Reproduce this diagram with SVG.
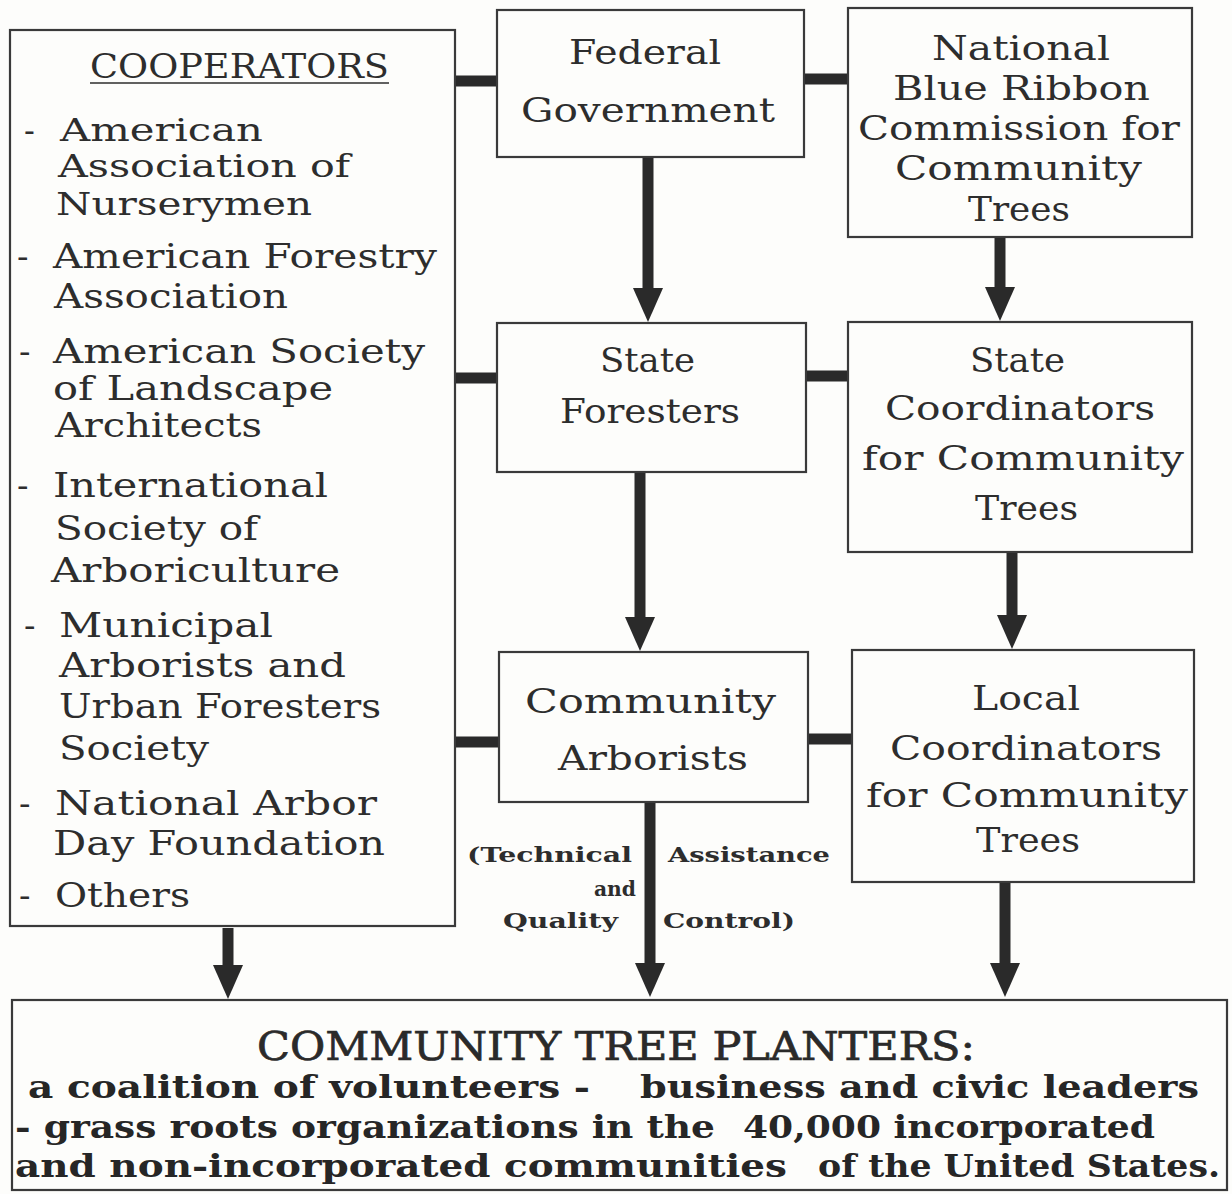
<svg xmlns="http://www.w3.org/2000/svg" width="1232" height="1194" viewBox="0 0 1232 1194">
<defs>
<style>
.bg{fill:#fdfdfb}
.box{fill:none;stroke:#3a3a3a;stroke-width:2.2}
.t{font-family:"DejaVu Serif","Liberation Serif",serif;font-size:34px;fill:#2d2d2d}
.c{font-size:32px}
.lb{font-family:"DejaVu Serif","Liberation Serif",serif;font-size:21px;font-weight:bold;fill:#2d2d2d}
.hd{font-family:"DejaVu Serif","Liberation Serif",serif;font-size:40px;fill:#2a2a2a;stroke:#2a2a2a;stroke-width:0.7}
.bd{font-family:"DejaVu Serif","Liberation Serif",serif;font-size:31px;font-weight:bold;fill:#262626}
.bar{stroke:#2a2a2a;stroke-width:11;fill:none}
.arr{stroke:#2a2a2a;stroke-width:11;fill:none;marker-end:url(#ah)}
</style>
<marker id="ah" markerUnits="userSpaceOnUse" viewBox="0 0 34 30" markerWidth="34" markerHeight="30" refX="1" refY="15" orient="auto">
<path d="M0,0 L34,15 L0,30 Z" fill="#2a2a2a"/>
</marker>
</defs>
<rect class="bg" x="0" y="0" width="1232" height="1194"/>

<g id="connectors">
<line class="bar" x1="455" y1="81" x2="498" y2="81"/>
<line class="bar" x1="804" y1="79" x2="849" y2="79"/>
<line class="bar" x1="455" y1="378" x2="498" y2="378"/>
<line class="bar" x1="806" y1="376" x2="849" y2="376"/>
<line class="bar" x1="455" y1="742" x2="500" y2="742"/>
<line class="bar" x1="808" y1="739" x2="852" y2="739"/>
<line class="arr" x1="648" y1="157" x2="648" y2="289"/>
<line class="arr" x1="1000" y1="237" x2="1000" y2="288"/>
<line class="arr" x1="640" y1="472" x2="640" y2="618"/>
<line class="arr" x1="1012" y1="552" x2="1012" y2="616"/>
<line class="arr" x1="228" y1="928" x2="228" y2="966"/>
<line class="arr" x1="650" y1="802" x2="650" y2="964"/>
<line class="arr" x1="1005" y1="882" x2="1005" y2="964"/>
</g>

<g id="cooperators">
<rect class="box" x="10" y="30" width="445" height="896"/>
<text class="t" x="90" y="78" textLength="299" lengthAdjust="spacingAndGlyphs">COOPERATORS</text>
<line x1="90" y1="83" x2="389" y2="83" stroke="#2d2d2d" stroke-width="1.6"/>
<text class="t c" y="141"><tspan x="24">-</tspan><tspan x="60" textLength="203" lengthAdjust="spacingAndGlyphs">American</tspan></text>
<text class="t c" x="58" y="177" textLength="292" lengthAdjust="spacingAndGlyphs">Association of</text>
<text class="t c" x="56" y="215" textLength="256" lengthAdjust="spacingAndGlyphs">Nurserymen</text>
<text class="t" y="268"><tspan x="17">-</tspan><tspan x="53" textLength="384" lengthAdjust="spacingAndGlyphs">American Forestry</tspan></text>
<text class="t" x="54" y="308" textLength="234" lengthAdjust="spacingAndGlyphs">Association</text>
<text class="t" y="363"><tspan x="19">-</tspan><tspan x="53" textLength="372" lengthAdjust="spacingAndGlyphs">American Society</tspan></text>
<text class="t" x="53" y="400" textLength="280" lengthAdjust="spacingAndGlyphs">of Landscape</text>
<text class="t" x="55" y="437" textLength="207" lengthAdjust="spacingAndGlyphs">Architects</text>
<text class="t" y="497"><tspan x="17">-</tspan><tspan x="53" textLength="275" lengthAdjust="spacingAndGlyphs">International</tspan></text>
<text class="t" x="55" y="540" textLength="203" lengthAdjust="spacingAndGlyphs">Society of</text>
<text class="t" x="51" y="582" textLength="289" lengthAdjust="spacingAndGlyphs">Arboriculture</text>
<text class="t" y="637"><tspan x="24">-</tspan><tspan x="59" textLength="214" lengthAdjust="spacingAndGlyphs">Municipal</tspan></text>
<text class="t" x="59" y="677" textLength="287" lengthAdjust="spacingAndGlyphs">Arborists and</text>
<text class="t" x="59" y="718" textLength="322" lengthAdjust="spacingAndGlyphs">Urban Foresters</text>
<text class="t" x="59" y="760" textLength="150" lengthAdjust="spacingAndGlyphs">Society</text>
<text class="t" y="815"><tspan x="19">-</tspan><tspan x="55" textLength="322" lengthAdjust="spacingAndGlyphs">National Arbor</tspan></text>
<text class="t" x="53" y="855" textLength="332" lengthAdjust="spacingAndGlyphs">Day Foundation</text>
<text class="t" y="907"><tspan x="19">-</tspan><tspan x="55" textLength="135" lengthAdjust="spacingAndGlyphs">Others</tspan></text>
</g>

<g id="federal">
<rect class="box" x="497" y="10" width="307" height="147"/>
<text class="t" x="569" y="64" textLength="152" lengthAdjust="spacingAndGlyphs">Federal</text>
<text class="t" x="521" y="122" textLength="254" lengthAdjust="spacingAndGlyphs">Government</text>
</g>

<g id="blue-ribbon">
<rect class="box" x="848" y="8" width="344" height="229"/>
<text class="t" x="932" y="60" textLength="178" lengthAdjust="spacingAndGlyphs">National</text>
<text class="t" x="893" y="100" textLength="257" lengthAdjust="spacingAndGlyphs">Blue Ribbon</text>
<text class="t" x="858" y="140" textLength="322" lengthAdjust="spacingAndGlyphs">Commission for</text>
<text class="t" x="895" y="180" textLength="247" lengthAdjust="spacingAndGlyphs">Community</text>
<text class="t" x="968" y="221" textLength="102" lengthAdjust="spacingAndGlyphs">Trees</text>
</g>

<g id="state-foresters">
<rect class="box" x="497" y="323" width="309" height="149"/>
<text class="t" x="600" y="372" textLength="95" lengthAdjust="spacingAndGlyphs">State</text>
<text class="t" x="560" y="423" textLength="180" lengthAdjust="spacingAndGlyphs">Foresters</text>
</g>

<g id="state-coordinators">
<rect class="box" x="848" y="322" width="344" height="230"/>
<text class="t" x="970" y="372" textLength="95" lengthAdjust="spacingAndGlyphs">State</text>
<text class="t" x="885" y="420" textLength="270" lengthAdjust="spacingAndGlyphs">Coordinators</text>
<text class="t" x="862" y="470" textLength="322" lengthAdjust="spacingAndGlyphs">for Community</text>
<text class="t" x="975" y="520" textLength="103" lengthAdjust="spacingAndGlyphs">Trees</text>
</g>

<g id="community-arborists">
<rect class="box" x="499" y="652" width="309" height="150"/>
<text class="t" x="525" y="713" textLength="251" lengthAdjust="spacingAndGlyphs">Community</text>
<text class="t" x="558" y="770" textLength="190" lengthAdjust="spacingAndGlyphs">Arborists</text>
</g>

<g id="local-coordinators">
<rect class="box" x="852" y="650" width="342" height="232"/>
<text class="t" x="972" y="710" textLength="108" lengthAdjust="spacingAndGlyphs">Local</text>
<text class="t" x="890" y="760" textLength="272" lengthAdjust="spacingAndGlyphs">Coordinators</text>
<text class="t" x="866" y="807" textLength="322" lengthAdjust="spacingAndGlyphs">for Community</text>
<text class="t" x="976" y="852" textLength="104" lengthAdjust="spacingAndGlyphs">Trees</text>
</g>

<g id="arborist-labels">
<text class="lb" x="467" y="862" textLength="165" lengthAdjust="spacingAndGlyphs">(Technical</text>
<text class="lb" x="668" y="862" textLength="162" lengthAdjust="spacingAndGlyphs">Assistance</text>
<text class="lb" x="594" y="896" textLength="42" lengthAdjust="spacingAndGlyphs">and</text>
<text class="lb" x="503" y="928" textLength="115" lengthAdjust="spacingAndGlyphs">Quality</text>
<text class="lb" x="663" y="928" textLength="132" lengthAdjust="spacingAndGlyphs">Control)</text>
</g>

<g id="tree-planters">
<rect class="box" x="12" y="1000" width="1215" height="190"/>
<text class="hd" x="257" y="1060" textLength="718" lengthAdjust="spacingAndGlyphs">COMMUNITY TREE PLANTERS:</text>
<text class="bd" y="1098"><tspan x="28" textLength="562" lengthAdjust="spacingAndGlyphs">a coalition of volunteers -</tspan><tspan x="640" textLength="559" lengthAdjust="spacingAndGlyphs">business and civic leaders</tspan></text>
<text class="bd" y="1138"><tspan x="15" textLength="700" lengthAdjust="spacingAndGlyphs">- grass roots organizations in the</tspan><tspan x="743" textLength="412" lengthAdjust="spacingAndGlyphs">40,000 incorporated</tspan></text>
<text class="bd" y="1177"><tspan x="15" textLength="772" lengthAdjust="spacingAndGlyphs">and non-incorporated communities</tspan><tspan x="818" textLength="402" lengthAdjust="spacingAndGlyphs">of the United States.</tspan></text>
</g>
</svg>
